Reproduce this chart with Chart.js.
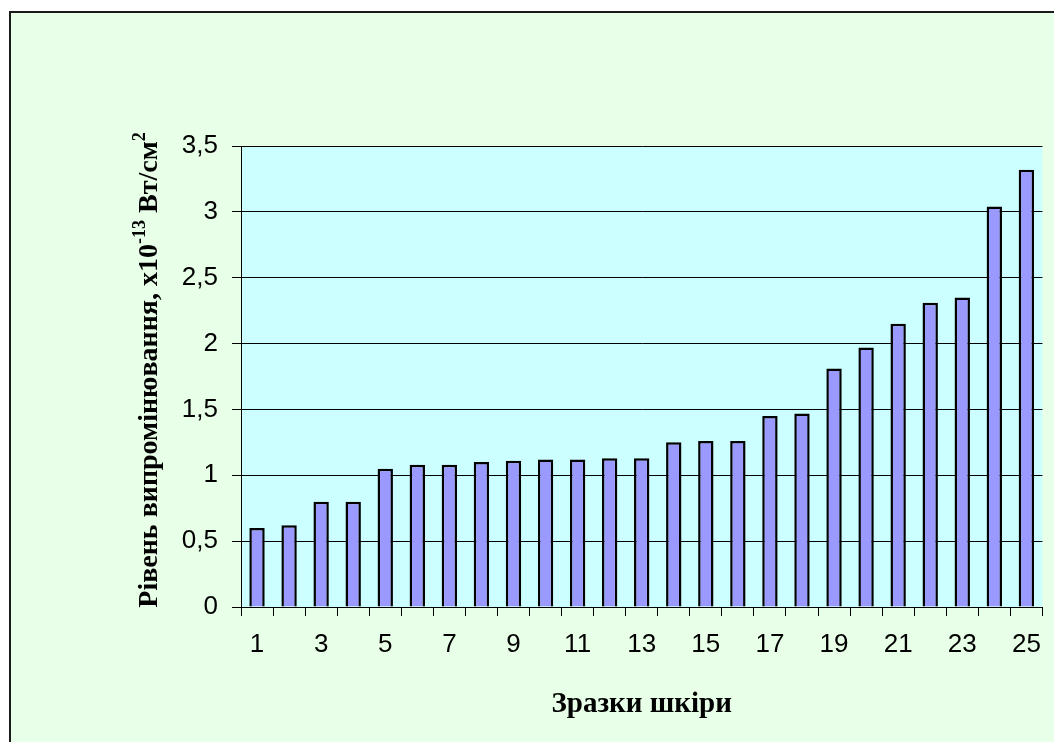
<!DOCTYPE html>
<html>
<head>
<meta charset="utf-8">
<script src="https://cdn.jsdelivr.net/npm/chart.js@4/dist/chart.umd.min.js"></script>
<style>
  html, body { margin: 0; padding: 0; background: #ffffff; overflow: hidden; }
  #frame {
    position: absolute; left: 9px; top: 11px; width: 1060px; height: 750px;
    background: #E8FFE8; border-left: 2px solid #1a1a1a; border-top: 2px solid #1a1a1a;
  }
  #wrap { position: absolute; left: 0; top: 0; width: 1054px; height: 742px; }
</style>
</head>
<body>
<div id="frame"></div>
<div id="wrap"><canvas id="chart-shkira"></canvas></div>
<script>
/* Зразки шкіри — рівень випромінювання */

const ZRAZKY = ["1","2","3","4","5","6","7","8","9","10","11","12","13",
                "14","15","16","17","18","19","20","21","22","23","24","25"];

const RIVEN = [0.60, 0.62, 0.80, 0.80, 1.05, 1.08, 1.08, 1.10, 1.11, 1.12, 1.12, 1.13, 1.13,
               1.25, 1.26, 1.26, 1.45, 1.47, 1.81, 1.97, 2.15, 2.31, 2.35, 3.04, 3.32];

const Y_TICKS = [0, 0.5, 1, 1.5, 2, 2.5, 3, 3.5];

const TITLE_X = "Зразки шкіри";
// підпис осі Y: звичайний текст + верхні індекси
const TITLE_Y = [
    { t: "Рівень випромінювання, х10", sup: false },
    { t: "-13", sup: true },
    { t: " Вт/см", sup: false },
    { t: "2", sup: true }
];

/* фон області побудови */
const plotBg = {
    id: "plotBg",
    beforeDraw(chart) {
        const a = chart.chartArea;
        const c = chart.ctx;
        c.save();
        c.fillStyle = "#CCFFFF";
        c.fillRect(a.left, a.top, a.right - a.left, a.bottom - a.top);
        c.restore();
    }
};

/* повернутий підпис осі Y з індексами */
const yTitle = {
    id: "yTitle",
    afterDraw(chart) {
        const c = chart.ctx;
        const big = "bold 28px 'Liberation Serif', 'Times New Roman', serif";
        const small = "bold 18px 'Liberation Serif', 'Times New Roman', serif";
        c.save();
        let total = 0;
        for (const s of TITLE_Y) {
            c.font = s.sup ? small : big;
            total += c.measureText(s.t).width;
        }
        c.translate(157, 370);
        c.rotate(-Math.PI / 2);
        c.fillStyle = "#000";
        c.textBaseline = "alphabetic";
        c.textAlign = "left";
        let x = -total / 2;
        for (const s of TITLE_Y) {
            c.font = s.sup ? small : big;
            c.fillText(s.t, x, s.sup ? -12 : 0);
            x += c.measureText(s.t).width;
        }
        c.restore();
    }
};

const ctx = document.getElementById("chart-shkira");

new Chart(ctx, {
    type: "bar",
    data: {
        labels: ZRAZKY,
        datasets: [{
            data: RIVEN,
            backgroundColor: "#9999FF",
            borderColor: "#000000",
            borderWidth: 2.5,
            categoryPercentage: 1,
            barPercentage: 0.48
        }]
    },
    options: {
        responsive: true,
        maintainAspectRatio: false,
        animation: false,
        layout: { padding: { top: 146, right: 8, left: 0, bottom: 0 } },
        plugins: {
            legend: { display: false },
            tooltip: { enabled: false }
        },
        scales: {
            x: {
                afterFit(s) { s.height = 135; },
                grid: {
                    offset: true,
                    drawOnChartArea: false,
                    drawTicks: true,
                    tickLength: 9,
                    color: "#000"
                },
                border: { color: "#000", width: 1 },
                ticks: {
                    autoSkip: false,
                    maxRotation: 0,
                    padding: 13,
                    color: "#000",
                    font: { family: "'Liberation Sans', Arial, sans-serif", size: 26 },
                    callback(v, i) { return i % 2 === 0 ? ZRAZKY[i] : ""; }
                },
                title: {
                    display: true,
                    text: TITLE_X,
                    color: "#000",
                    font: { family: "'Liberation Serif', 'Times New Roman', serif", size: 29, weight: "bold" },
                    padding: { top: 0, bottom: 20 }
                }
            },
            y: {
                min: 0,
                max: 3.5,
                afterFit(s) { s.width = 241; },
                afterBuildTicks(s) { s.ticks = Y_TICKS.map(v => ({ value: v })); },
                grid: {
                    color: "#000",
                    lineWidth: 1,
                    drawTicks: true,
                    tickLength: 9
                },
                border: { color: "#000", width: 1 },
                ticks: {
                    padding: 14,
                    color: "#000",
                    font: { family: "'Liberation Sans', Arial, sans-serif", size: 26 },
                    callback(v) { return String(v).replace(".", ","); }
                }
            }
        }
    },
    plugins: [plotBg, yTitle]
});
</script>
</body>
</html>
